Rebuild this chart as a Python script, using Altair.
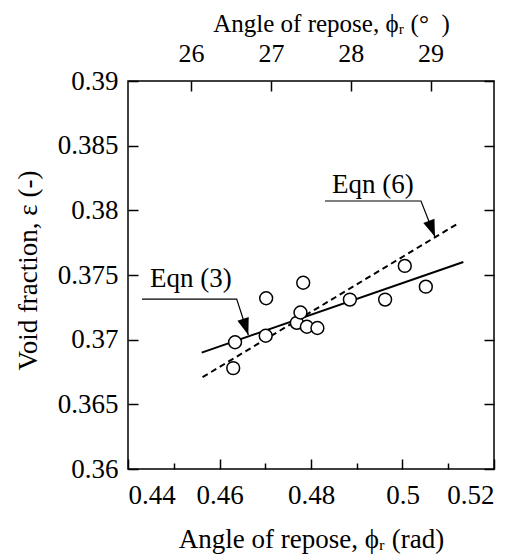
import math
import altair as alt
import pandas as pd

# ---- data ----
rad = [0.4630, 0.4634, 0.4701, 0.4702, 0.4769, 0.4777, 0.4783, 0.4791, 0.4814, 0.4885, 0.4962, 0.5005, 0.5051]
void = [0.3678, 0.3698, 0.3703, 0.3732, 0.3713, 0.3721, 0.3744, 0.3710, 0.3709, 0.3731, 0.3731, 0.3757, 0.3741]

eqn3_x = [0.4561, 0.5133]
eqn3_y = [0.3690, 0.3760]
eqn6_x = [0.4563, 0.5122]
eqn6_y = [0.3671, 0.3790]

x_ticks = [0.44, 0.46, 0.48, 0.50, 0.52]
x_minor = [0.45, 0.47, 0.49, 0.51]
y_ticks = [0.36, 0.365, 0.37, 0.375, 0.38, 0.385, 0.39]
deg_ticks = [26, 27, 28, 29]

labels = ["Eqn (3)", "Eqn (6)"]
label_x = [0.4448, 0.4846]
label_y = [0.3741, 0.38132]

lead3_x = [0.44306, 0.46376, 0.46630]
lead3_y = [0.37314, 0.37314, 0.37036]
lead6_x = [0.48306, 0.50404, 0.50710]
lead6_y = [0.38072, 0.38072, 0.37796]
arrow_angle = [342, 339]

FONT = "Liberation Serif"
FS = 27

xs = alt.Scale(domain=[0.44, 0.52], nice=False, zero=False)
ys = alt.Scale(domain=[0.36, 0.39], nice=False, zero=False)

df_pts = pd.DataFrame({"x": rad, "y": void})
df3 = pd.DataFrame({"x": eqn3_x, "y": eqn3_y})
df6 = pd.DataFrame({"x": eqn6_x, "y": eqn6_y})
df_lab = pd.DataFrame({"x": label_x, "y": label_y, "t": labels})
df_lead = pd.concat([
    pd.DataFrame({"x": lead3_x, "y": lead3_y, "k": "3", "o": [0, 1, 2]}),
    pd.DataFrame({"x": lead6_x, "y": lead6_y, "k": "6", "o": [0, 1, 2]}),
])
df_tip = pd.DataFrame({"x": [lead3_x[-1], lead6_x[-1]], "y": [lead3_y[-1], lead6_y[-1]], "a": arrow_angle})

deg_vals = [d * math.pi / 180 for d in deg_ticks]

tick_common = dict(grid=False, domain=False, tickColor="black", tickWidth=1.5,
                   labelColor="black", titleColor="black", titleFontWeight="normal")

lineA = alt.Chart(df3).mark_line(color="black", strokeWidth=2).encode(
    x=alt.X("x:Q", scale=xs, axis=alt.Axis(
        orient="bottom", values=x_ticks, format="~g", offset=-10, tickSize=10,
        labelBaseline="alphabetic", labelPadding=34,
        title="Angle of repose, ϕᵣ (rad)", titleY=88, titleBaseline="alphabetic",
        **tick_common)),
    y=alt.Y("y:Q", scale=ys, axis=alt.Axis(
        orient="left", values=y_ticks, format="~g", offset=-10, tickSize=10,
        labelPadding=10,
        title="Void fraction, ε (-)", titleX=-102, titleY=189, titleAngle=270,
        titleAlign="center", titleBaseline="alphabetic",
        **tick_common)),
)

lineB = alt.Chart(df6).mark_line(color="black", strokeWidth=2, strokeDash=[6, 4]).encode(
    x=alt.X("x:Q", scale=xs, axis=alt.Axis(
        orient="bottom", values=x_minor, offset=-6, tickSize=6, labels=False, title="",
        **tick_common)),
    y=alt.Y("y:Q", scale=ys, axis=alt.Axis(
        orient="right", values=y_ticks, offset=-10, tickSize=10, labels=False, title="",
        **tick_common)),
)

pts = alt.Chart(df_pts).mark_point(shape="circle", filled=True, fill="white", stroke="black",
                                   strokeWidth=1.5, size=165, opacity=1).encode(
    x=alt.X("x:Q", scale=xs, axis=alt.Axis(
        orient="top", values=deg_vals, offset=-10, tickSize=10,
        labelExpr="format(round(datum.value*180/PI), 'd')",
        labelBaseline="alphabetic", labelPadding=20, labelFontSize=26,
        title="Angle of repose, ϕᵣ (°\u00a0\u00a0)", titleX=203, titleY=-60,
        titleAlign="center", titleBaseline="alphabetic", titleFontSize=25,
        **tick_common)),
    y=alt.Y("y:Q", scale=ys, axis=None),
)

lead = alt.Chart(df_lead).mark_line(color="black", strokeWidth=1.2).encode(
    x=alt.X("x:Q", scale=xs, axis=None),
    y=alt.Y("y:Q", scale=ys, axis=None),
    detail="k:N",
    order="o:Q",
)

tips = alt.Chart(df_tip).mark_point(shape="M0,0L-0.7,-2L0.7,-2Z", filled=True, color="black",
                                    size=289, opacity=1).encode(
    x=alt.X("x:Q", scale=xs, axis=None),
    y=alt.Y("y:Q", scale=ys, axis=None),
    angle=alt.Angle("a:Q", scale=None),
)

txt = alt.Chart(df_lab).mark_text(color="black", align="left", baseline="alphabetic").encode(
    x=alt.X("x:Q", scale=xs, axis=None),
    y=alt.Y("y:Q", scale=ys, axis=None),
    text="t:N",
)

chart = alt.layer(lineA, lineB, pts, lead, tips, txt).resolve_axis(
    x="independent", y="independent"
).properties(
    width=366, height=388,
    autosize=alt.AutoSizeParams(type="none"),
    padding={"left": 120, "top": 73, "right": 15, "bottom": 88},
    background="white",
).configure(
    font=FONT
).configure_axis(
    labelFont=FONT, labelFontSize=FS, titleFont=FONT, titleFontSize=FS
).configure_text(
    font=FONT, fontSize=FS
).configure_view(stroke="black", strokeWidth=1.5)

chart.save("out.html", embed_options={"renderer": "svg", "actions": False})
